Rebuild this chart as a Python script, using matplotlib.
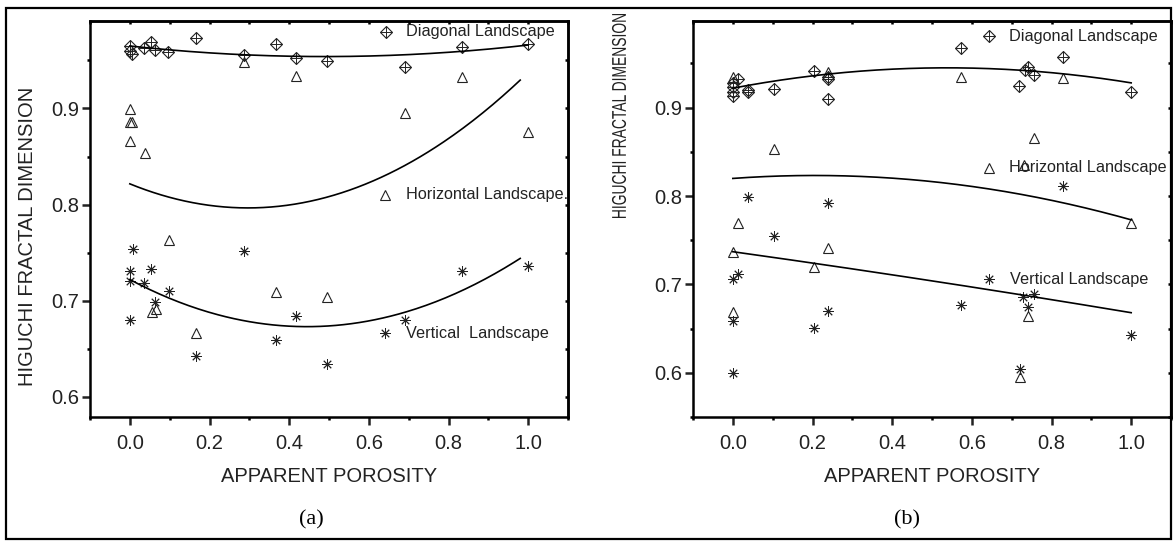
import numpy as np
import matplotlib
matplotlib.use('Agg')
import matplotlib.pyplot as plt
from matplotlib.patches import Rectangle, PathPatch
from matplotlib.ticker import MultipleLocator
from matplotlib.textpath import TextPath
from matplotlib.font_manager import FontProperties
from matplotlib.transforms import Affine2D

plt.rcParams['font.family'] = ['Liberation Sans', 'DejaVu Sans']

# (a) values
diag_a_x = [0.0, 0.0, 0.005, 0.036, 0.054, 0.063, 0.096, 0.165, 0.287, 0.367, 0.416, 0.494, 0.691, 0.833, 1.0]
diag_a_y = [0.965, 0.960, 0.957, 0.963, 0.969, 0.961, 0.959, 0.973, 0.956, 0.967, 0.952, 0.949, 0.943, 0.964, 0.967]
horiz_a_x = [0.0, 0.0, 0.005, 0.0, 0.038, 0.056, 0.065, 0.098, 0.166, 0.287, 0.367, 0.416, 0.494, 0.691, 0.833, 1.0]
horiz_a_y = [0.899, 0.886, 0.886, 0.866, 0.854, 0.688, 0.691, 0.763, 0.666, 0.948, 0.709, 0.934, 0.704, 0.895, 0.933, 0.876]
vert_a_x = [0.008, 0.0, 0.0, 0.036, 0.054, 0.063, 0.098, 0.0, 0.287, 0.166, 0.367, 0.416, 0.494, 0.691, 0.833, 1.0]
vert_a_y = [0.754, 0.731, 0.721, 0.718, 0.733, 0.699, 0.710, 0.680, 0.752, 0.642, 0.659, 0.684, 0.634, 0.680, 0.731, 0.736]

# fitted curves of (a)
fit_diag_a_x = [0.0, 0.49, 1.0]
fit_diag_a_y = [0.965, 0.954, 0.966]
fit_horiz_a_x = [0.0, 0.284, 0.661, 0.98]
fit_horiz_a_y = [0.821, 0.798, 0.833, 0.930]
fit_vert_a_x = [0.0, 0.444, 0.98]
fit_vert_a_y = [0.722, 0.673, 0.744]

# (b) values
diag_b_x = [0.0, 0.0, 0.0, 0.0, 0.013, 0.038, 0.038, 0.104, 0.204, 0.240, 0.240, 0.240, 0.574, 0.719, 0.734, 0.742, 0.755, 0.828, 1.0]
diag_b_y = [0.928, 0.923, 0.918, 0.913, 0.932, 0.918, 0.920, 0.921, 0.941, 0.935, 0.932, 0.910, 0.968, 0.925, 0.943, 0.946, 0.937, 0.957, 0.918]
horiz_b_x = [0.0, 0.240, 0.574, 0.828, 0.104, 0.755, 0.732, 0.013, 0.0, 0.240, 0.204, 0.0, 0.740, 0.720, 1.0]
horiz_b_y = [0.935, 0.940, 0.935, 0.933, 0.853, 0.866, 0.835, 0.769, 0.737, 0.741, 0.720, 0.669, 0.664, 0.595, 0.769]
vert_b_x = [0.828, 0.038, 0.240, 0.104, 0.0, 0.013, 0.0, 0.204, 0.240, 0.574, 0.729, 0.755, 0.740, 1.0, 0.0, 0.720]
vert_b_y = [0.811, 0.799, 0.792, 0.755, 0.706, 0.712, 0.659, 0.651, 0.670, 0.677, 0.686, 0.689, 0.675, 0.643, 0.600, 0.604]

fit_diag_b_x = [0.0, 0.553, 1.0]
fit_diag_b_y = [0.922, 0.945, 0.928]
fit_horiz_b_x = [0.0, 0.219, 0.6, 1.0]
fit_horiz_b_y = [0.820, 0.823, 0.811, 0.773]
fit_vert_b_x = [0.0, 0.5, 1.0]
fit_vert_b_y = [0.737, 0.704, 0.668]

W, H = 1173, 541
fig = plt.figure(figsize=(W / 100, H / 100), dpi=100)

# outer frame
fig.patches.append(Rectangle((6 / W, 2 / H), 1165 / W, 531 / H, transform=fig.transFigure,
                             fill=False, edgecolor='black', linewidth=1.6))


def draw_diag(ax, x, y):
    ax.plot(x, y, linestyle='none', marker='D', markersize=6, markerfacecolor='none',
            markeredgecolor='#222222', markeredgewidth=0.8)
    ax.plot(x, y, linestyle='none', marker='+', markersize=8, markeredgecolor='#222222',
            markeredgewidth=0.7)


def draw_horiz(ax, x, y):
    ax.plot(x, y, linestyle='none', marker='^', markersize=7.5, markerfacecolor='none',
            markeredgecolor='#222222', markeredgewidth=0.8)


def draw_vert(ax, x, y):
    ax.plot(x, y, linestyle='none', marker=(8, 2, 0), markersize=7.5,
            markeredgecolor='#222222', markeredgewidth=0.65)


def draw_fit(ax, x, y):
    coef = np.polyfit(x, y, 2)
    xs = np.linspace(x[0], x[-1], 200)
    ax.plot(xs, np.polyval(coef, xs), color='black', linewidth=1.2)


def style_axes(ax, ylim):
    ax.set_xlim(-0.1, 1.1)
    ax.set_ylim(*ylim)
    ax.xaxis.set_major_locator(MultipleLocator(0.2))
    ax.xaxis.set_minor_locator(MultipleLocator(0.1))
    ax.yaxis.set_major_locator(MultipleLocator(0.1))
    ax.yaxis.set_minor_locator(MultipleLocator(0.05))
    ax.set_xticks([0.0, 0.2, 0.4, 0.6, 0.8, 1.0])
    ax.set_xticklabels(['0.0', '0.2', '0.4', '0.6', '0.8', '1.0'])
    for s in ax.spines.values():
        s.set_linewidth(1.8)
    ax.tick_params(which='major', direction='out', length=6, width=1.8,
                   labelsize=14.5, colors='#222222', pad=2)
    ax.tick_params(axis='x', which='major', pad=6)
    ax.tick_params(which='minor', direction='out', length=2.5, width=1.8)
    # small ticks on the top and right spines
    top = ax.secondary_xaxis('top')
    top.xaxis.set_major_locator(MultipleLocator(0.1))
    top.tick_params(direction='in', length=2.5, width=1.8, labeltop=False)
    top.spines['top'].set_linewidth(1.8)
    right = ax.secondary_yaxis('right')
    right.yaxis.set_major_locator(MultipleLocator(0.05))
    right.tick_params(direction='in', length=2.5, width=1.8, labelright=False)
    right.spines['right'].set_linewidth(1.8)


def key(ax, x, y, kind, label):
    if kind == 'diag':
        draw_diag(ax, [x], [y])
    elif kind == 'horiz':
        draw_horiz(ax, [x], [y])
    else:
        draw_vert(ax, [x], [y])
    ax.text(x + 0.052, y, label, fontsize=11.7, color='#222222', va='center', ha='left')


# panel (a)
ax1 = fig.add_axes([90 / W, 1 - 417 / H, 478 / W, 396 / H])
draw_diag(ax1, diag_a_x, diag_a_y)
draw_horiz(ax1, horiz_a_x, horiz_a_y)
draw_vert(ax1, vert_a_x, vert_a_y)
draw_fit(ax1, fit_diag_a_x, fit_diag_a_y)
draw_fit(ax1, fit_horiz_a_x, fit_horiz_a_y)
draw_fit(ax1, fit_vert_a_x, fit_vert_a_y)
style_axes(ax1, (0.579, 0.991))
key(ax1, 0.642, 0.980, 'diag', 'Diagonal Landscape')
key(ax1, 0.641, 0.810, 'horiz', 'Horizontal Landscape.')
key(ax1, 0.641, 0.666, 'vert', 'Vertical  Landscape')

# panel (b)
ax2 = fig.add_axes([693 / W, 1 - 417 / H, 478 / W, 396 / H])
draw_diag(ax2, diag_b_x, diag_b_y)
draw_horiz(ax2, horiz_b_x, horiz_b_y)
draw_vert(ax2, vert_b_x, vert_b_y)
draw_fit(ax2, fit_diag_b_x, fit_diag_b_y)
draw_fit(ax2, fit_horiz_b_x, fit_horiz_b_y)
draw_fit(ax2, fit_vert_b_x, fit_vert_b_y)
style_axes(ax2, (0.55, 0.998))
key(ax2, 0.642, 0.981, 'diag', 'Diagonal Landscape')
key(ax2, 0.642, 0.832, 'horiz', 'Horizontal Landscape')
key(ax2, 0.643, 0.706, 'vert', 'Vertical Landscape')

# axis titles and panel letters
for cx in [329, 932]:
    fig.text(cx / W, 1 - 476 / H, 'APPARENT POROSITY', fontsize=14.5, color='#222222',
             ha='center', va='center')
fig.text(311 / W, 1 - 520 / H, '(a)', fontsize=16, family=['Liberation Serif'],
         ha='center', va='center')
fig.text(907 / W, 1 - 520 / H, '(b)', fontsize=16, family=['Liberation Serif'],
         ha='center', va='center')
fig.text(28 / W, 1 - 386 / H, 'HIGUCHI FRACTAL DIMENSION', fontsize=14.5, color='#222222',
         rotation=90, ha='center', va='bottom')

# the label of (b) is squeezed along its length in the original
ylab = TextPath((0, 0), 'HIGUCHI FRACTAL DIMENSION', size=20,
                prop=FontProperties(family='Liberation Sans'))
ext = ylab.get_extents()
squeeze = 204 / ext.width
tr = (Affine2D().translate(-ext.x0, -ext.y0 - ext.height / 2)
      .scale(squeeze, 1).rotate_deg(90).translate(619, H - 218))
fig.patches.append(PathPatch(ylab, transform=tr, facecolor='#222222', edgecolor='none'))

fig.savefig('out.png', dpi=100)
